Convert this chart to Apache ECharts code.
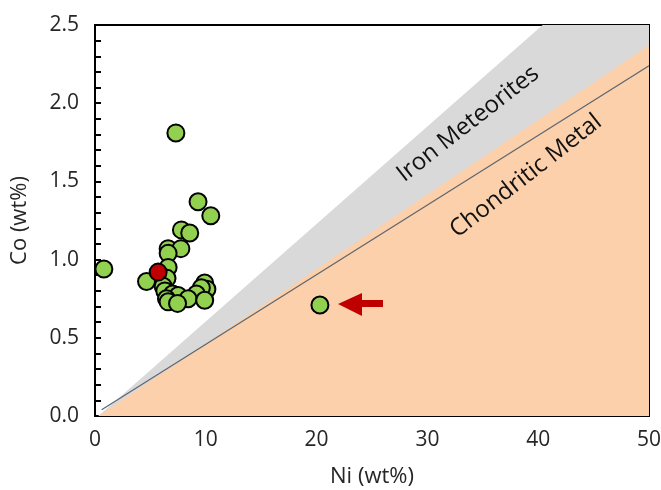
<!DOCTYPE html>
<html>
<head>
<meta charset="utf-8">
<script src="https://cdn.jsdelivr.net/npm/echarts@6/dist/echarts.min.js"></script>
<style>
  html, body { margin: 0; padding: 0; background: #fff; }
  #chart { width: 661px; height: 490px; }
</style>
</head>
<body>
<div id="chart"></div>
<script>
// sample points, Ni vs Co (wt%)
var niValues = [7.3, 9.3, 10.45, 7.8, 8.55, 6.6, 7.75, 6.6, 0.8, 6.6, 4.65, 6.5, 6.15, 6.3,
    9.9, 10.1, 9.6, 9.15, 7.0, 7.5, 8.4, 6.45, 6.6, 7.45, 9.9, 20.3];
var coValues = [1.81, 1.37, 1.28, 1.19, 1.17, 1.07, 1.07, 1.04, 0.94, 0.95, 0.86, 0.88, 0.83, 0.8,
    0.85, 0.81, 0.82, 0.78, 0.78, 0.77, 0.75, 0.75, 0.73, 0.72, 0.74, 0.71];
var redNi = [5.7];
var redCo = [0.92];

// field boundaries
var ironBoundNi = [0.3, 40.4, 50];
var ironBoundCo = [0, 2.5, 2.5];
var chondBoundNi = [0.3, 50];
var chondBoundCo = [0, 2.37];
var refLineNi = [0.6, 50];
var refLineCo = [0.04, 2.24];

var xTicks = [0, 10, 20, 30, 40, 50];
var yTicks = [0, 0.5, 1.0, 1.5, 2.0, 2.5];

function pairs(xs, ys) {
    var out = [];
    for (var i = 0; i < xs.length; i++) {
        out.push([xs[i], ys[i]]);
    }
    return out;
}

var font = 'Open Sans';
var textColor = '#262626';
var myChart = echarts.init(document.getElementById('chart'));

var option = {
    animation: false,
    grid: {
        left: 95,
        right: 12,
        top: 25,
        bottom: 74,
        outerBoundsMode: 'none',
        containLabel: false,
        show: true,
        borderColor: '#000',
        borderWidth: 2
    },
    xAxis: {
        type: 'value',
        min: xTicks[0],
        max: xTicks[xTicks.length - 1],
        interval: 10,
        name: 'Ni (wt%)',
        nameLocation: 'middle',
        nameGap: 50,
        nameTextStyle: { fontFamily: font, fontSize: 22, color: textColor },
        axisLine: { show: true, lineStyle: { color: '#000', width: 2 } },
        axisTick: { show: true, inside: true, length: 6, lineStyle: { color: '#000', width: 2 } },
        minorTick: { show: true, splitNumber: 5, length: 6, lineStyle: { color: '#000', width: 2 } },
        axisLabel: { fontFamily: font, fontSize: 21, color: textColor, margin: 14 },
        splitLine: { show: false }
    },
    yAxis: {
        type: 'value',
        min: yTicks[0],
        max: yTicks[yTicks.length - 1],
        interval: 0.5,
        name: 'Co (wt%)',
        nameLocation: 'middle',
        nameGap: 64,
        nameTextStyle: { fontFamily: font, fontSize: 22, color: textColor },
        axisLine: { show: true, lineStyle: { color: '#000', width: 2 } },
        axisTick: { show: true, inside: true, length: 6, lineStyle: { color: '#000', width: 2 } },
        minorTick: { show: true, splitNumber: 5, length: 6, lineStyle: { color: '#000', width: 2 } },
        axisLabel: {
            fontFamily: font, fontSize: 21, color: textColor, margin: 16,
            formatter: function (v) { return v.toFixed(1); }
        },
        splitLine: { show: false }
    },
    series: [
        {
            name: 'Iron Meteorites',
            type: 'line',
            data: pairs(ironBoundNi, ironBoundCo),
            symbol: 'none',
            lineStyle: { width: 0 },
            areaStyle: { color: '#d9d9d9', opacity: 1 },
            z: 1
        },
        {
            name: 'Chondritic Metal',
            type: 'line',
            data: pairs(chondBoundNi, chondBoundCo),
            symbol: 'none',
            lineStyle: { width: 0 },
            areaStyle: { color: '#fcd0aa', opacity: 1 },
            z: 2
        },
        {
            name: 'ref',
            type: 'line',
            data: pairs(refLineNi, refLineCo),
            symbol: 'none',
            lineStyle: { color: '#5b6570', width: 1.2 },
            z: 3
        },
        {
            name: 'samples',
            type: 'scatter',
            data: pairs(niValues, coValues),
            symbolSize: 17,
            itemStyle: { color: '#92d050', borderColor: '#000', borderWidth: 2, opacity: 1 },
            z: 5
        },
        {
            name: 'highlight',
            type: 'scatter',
            data: pairs(redNi, redCo),
            symbolSize: 17,
            itemStyle: { color: '#c00000', borderColor: '#000', borderWidth: 2, opacity: 1 },
            z: 6
        }
    ],
    graphic: [
        {
            type: 'text',
            x: 468, y: 124,
            rotation: 38 * Math.PI / 180,
            style: {
                text: 'Iron Meteorites',
                fontFamily: font, fontSize: 24, fill: '#111',
                align: 'center', verticalAlign: 'middle'
            },
            z: 10
        },
        {
            type: 'text',
            x: 526, y: 176,
            rotation: 38 * Math.PI / 180,
            style: {
                text: 'Chondritic Metal',
                fontFamily: font, fontSize: 24, fill: '#111',
                align: 'center', verticalAlign: 'middle'
            },
            z: 10
        },
        {
            type: 'polygon',
            shape: {
                points: [[338, 304], [362, 293], [362, 300], [383, 300], [383, 307], [362, 307], [362, 316]]
            },
            style: { fill: '#c00000' },
            z: 10
        }
    ]
};

myChart.setOption(option);
</script>
</body>
</html>
